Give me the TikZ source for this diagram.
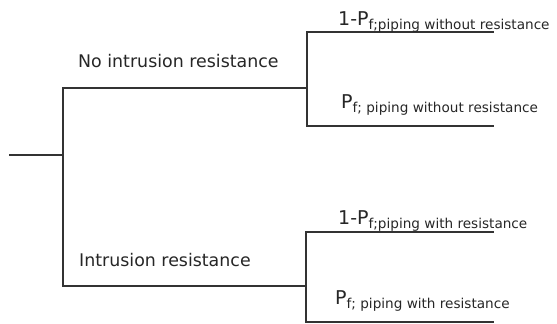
\documentclass[tikz,border=0pt]{standalone}
\usepackage{fontspec}
\setmainfont{DejaVu Sans}
\usepackage{tikz}
\usetikzlibrary{calc}

\newcommand{\lsub}[1]{\raisebox{-3.5pt}{\fontsize{13.6}{16}\selectfont #1}}

\tikzset{
	branch/.style={line width=1.2pt, black!80},
	lbl/.style={anchor=base west, inner sep=0pt, font=\fontsize{17.4}{20}\selectfont, text=black!85},
	plbl/.style={lbl, font=\fontsize{19}{22}\selectfont}
}

\begin{document}
\begin{tikzpicture}[x=1pt, y=1pt]

	\useasboundingbox (0,0) rectangle (557,324);

	% ---- coordinates

	\coordinate (O) at (9,169);
	\coordinate (T) at (63,169);
	\coordinate (A) at (307,236);
	\coordinate (B) at (306,38);
	\coordinate (A1) at (494,292);
	\coordinate (A2) at (494,198);
	\coordinate (B1) at (494,92);
	\coordinate (B2) at (494,2);

	% ---- branches

	\draw[branch] (O) -- (T);
	\draw[branch] (T) |- (A);
	\draw[branch] (T) |- (B);
	\draw[branch] (A) |- (A1);
	\draw[branch] (A) |- (A2);
	\draw[branch] (B) |- (B1);
	\draw[branch] (B) |- (B2);

	% ---- labels

	\node[lbl] (noires) at ($(T)+(15,87)$) {No intrusion resistance};
	\node[lbl] (ires) at ($(T)+(16,-112)$) {Intrusion resistance};

	\node[plbl] (a1) at ($(A)+(31,62)$) {1-P\lsub{f;piping without resistance}};
	\node[plbl] (a2) at ($(A)+(34,-21)$) {P\lsub{f; piping without resistance}};
	\node[plbl] (b1) at ($(B)+(32,61)$) {1-P\lsub{f;piping with resistance}};
	\node[plbl] (b2) at ($(B)+(29,-19)$) {P\lsub{f; piping with resistance}};

\end{tikzpicture}
\end{document}
